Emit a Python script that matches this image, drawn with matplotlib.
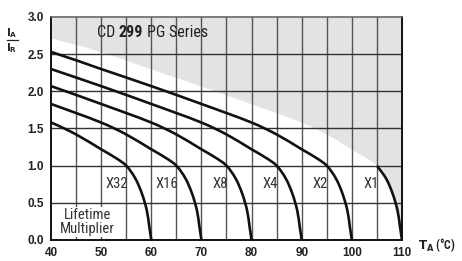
import matplotlib
matplotlib.use("Agg")
import matplotlib.pyplot as plt
from matplotlib.path import Path
from matplotlib.patches import PathPatch
import numpy as np

# all curves share one shape, each shifted 10 degC per lifetime doubling
# offset = end temperature - T_A,  ratio = I_A / I_R
offset = [70, 60, 50, 40, 30, 20, 15, 10, 7, 5, 3.2, 1.9, 0.9, 0.4, 0]
ratio = [2.72, 2.53, 2.30, 2.07, 1.83, 1.58, 1.42, 1.22, 1.10, 1.0, 0.83, 0.63, 0.40, 0.18, 0]

labels = ["X32", "X16", "X8", "X4", "X2", "X1"]
end_temp = [60, 70, 80, 90, 100, 110]

xticks = [40, 50, 60, 70, 80, 90, 100, 110]
yticks = [0.0, 0.5, 1.0, 1.5, 2.0, 2.5, 3.0]

cond = dict(family=["DejaVu Sans Condensed", "Liberation Sans Narrow",
                    "Roboto Condensed", "DejaVu Sans"])


def smooth_path(xs, ys, sx=5.0, sy=74.0):
    # bezier through the points, tangents taken in (roughly) pixel space
    p = np.column_stack([np.asarray(xs, float) * sx, np.asarray(ys, float) * sy])
    n = len(p)
    tang = np.zeros_like(p)
    for i in range(n):
        a = p[max(i - 1, 0)]
        b = p[min(i + 1, n - 1)]
        d = b - a
        tang[i] = d / np.hypot(*d)
    verts = [p[0]]
    codes = [Path.MOVETO]
    for i in range(n - 1):
        L = np.hypot(*(p[i + 1] - p[i])) / 3.0
        verts += [p[i] + tang[i] * L, p[i + 1] - tang[i + 1] * L, p[i + 1]]
        codes += [Path.CURVE4] * 3
    v = np.array(verts) / [sx, sy]
    return Path(v, codes)


fig = plt.figure(figsize=(4.62, 2.61), dpi=100)
ax = fig.add_axes([0.1104, 0.0805, 0.7597, 0.8544])

# grey area above the X1 curve
t1 = end_temp[-1] - np.array(offset)
edge = smooth_path(t1, ratio).interpolated(20).vertices
ax.fill_between(edge[:, 0], edge[:, 1], 3.0, color="#e3e3e3", lw=0, zorder=0)
ax.fill_between([edge[-1, 0], 110.5], [0, 0], 3.0, color="#e3e3e3", lw=0, zorder=0)

for x in range(45, 110, 5):
    ax.axvline(x, color="#555555", lw=1.0, zorder=1)
for y in [0.5, 1.0, 1.5, 2.0, 2.5]:
    ax.axhline(y, color="#333333", lw=1.0, zorder=1)

for lab, te in zip(labels, end_temp):
    tt = te - np.array(offset)
    rr = np.array(ratio)
    if lab == "X1":
        # X1 only drawn below the 1.0 line, the rest is the shade edge
        m = tt >= te - 5
        tt, rr = tt[m], rr[m]
    ax.add_patch(PathPatch(smooth_path(tt, rr), fill=False, edgecolor="#111111",
                           lw=1.9, zorder=3, capstyle="butt"))
    ax.text(te - 4.7, 0.75, lab, ha="right", va="center", fontsize=10.5,
            color="#333333", zorder=4, **cond)

ax.text(47.2, 0.24, "Lifetime\nMultiplier", ha="center", va="center", fontsize=10.5,
        color="#333333", linespacing=1.0, zorder=4,
        bbox=dict(facecolor="white", edgecolor="none", pad=0.5), **cond)

# series title, "299" in bold
tt1 = ax.text(49.2, 2.79, "CD", ha="left", va="center", fontsize=11.5,
              color="#222222", **cond)
tt2 = ax.annotate("299", xy=(1, 0), xycoords=tt1, xytext=(2.5, 0),
                  textcoords="offset points", ha="left", va="bottom", fontsize=11.5,
                  fontweight="bold", color="#222222", **cond)
ax.annotate("PG Series", xy=(1, 0), xycoords=tt2, xytext=(2.5, 0),
            textcoords="offset points", ha="left", va="bottom", fontsize=11.5,
            color="#222222", **cond)

ax.set_xlim(40, 110)
ax.set_ylim(0, 3.0)
ax.set_xticks(xticks)
ax.set_yticks(yticks)
ax.set_xticklabels([str(v) for v in xticks], fontweight="bold", fontsize=8.5,
                   family="Liberation Sans", color="#222222")
ax.set_yticklabels(["%.1f" % v for v in yticks], fontweight="bold", fontsize=8.5,
                   family="Liberation Sans", color="#222222")
ax.tick_params(length=0, pad=5)

for s in ["left", "bottom", "right"]:
    ax.spines[s].set_color("#111111")
    ax.spines[s].set_linewidth(1.4)
ax.spines["top"].set_color("#666666")
ax.spines["top"].set_linewidth(1.2)

# axis titles
fig.text(0.905, 0.025, r"$\mathbf{T}_{\mathbf{A}}$" + " (°C)", fontsize=8.5, fontweight="bold",
         ha="left", va="bottom", color="#222222", **cond)
fig.text(0.026, 0.875, r"$\mathbf{I}_{\mathbf{A}}$", fontsize=7.5, ha="center", va="center",
         color="#222222")
fig.text(0.026, 0.815, r"$\mathbf{I}_{\mathbf{R}}$", fontsize=7.5, ha="center", va="center",
         color="#222222")
fig.add_artist(plt.Line2D([0.015, 0.038], [0.848, 0.848], color="#222222", lw=0.9,
                          transform=fig.transFigure))

fig.savefig("out.png", dpi=100)
